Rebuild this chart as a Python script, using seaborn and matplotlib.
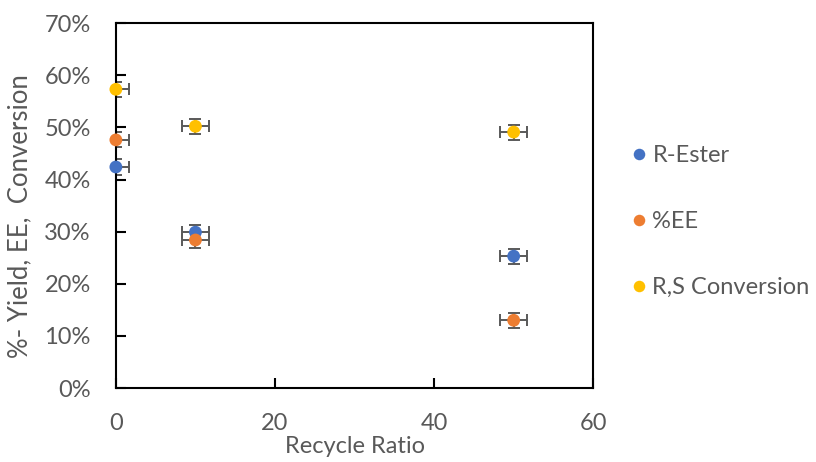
import matplotlib
matplotlib.use("Agg")
import matplotlib.pyplot as plt
from matplotlib.ticker import FuncFormatter, MultipleLocator
import seaborn as sns
import pandas as pd

# Recycle ratio settings
recycle_ratio = [0, 10, 50]

# Measured values (%)
r_ester = [42.4, 29.9, 25.3]
ee = [47.6, 28.4, 13.0]
rs_conversion = [57.3, 50.2, 49.1]

series_names = ["R-Ester", "%EE", "R,S Conversion"]
series_colors = ["#4472C4", "#ED7D31", "#FFC000"]

# Uncertainty of each point
x_err = 1.7
y_err = 1.45

df = pd.DataFrame({
    "Recycle Ratio": recycle_ratio * 3,
    "value": r_ester + ee + rs_conversion,
    "series": [n for n in series_names for _ in recycle_ratio],
})

sns.set_theme(style="white")
plt.rcParams["font.family"] = ["Lato", "DejaVu Sans"]

fig = plt.figure(figsize=(8.16, 4.62), dpi=100)
ax = fig.add_axes([0.142, 0.160, 0.585, 0.790])

grey = "#595959"
fs = 17

# error bars underneath the markers
ax.errorbar(df["Recycle Ratio"], df["value"], xerr=x_err, yerr=y_err,
            fmt="none", ecolor=grey, elinewidth=1.4, capsize=4,
            capthick=1.4, zorder=2)

sns.scatterplot(data=df, x="Recycle Ratio", y="value", hue="series",
                hue_order=series_names, palette=series_colors, s=85,
                edgecolor="none", ax=ax, zorder=3, clip_on=False)

ax.set_xlim(0, 60)
ax.set_ylim(0, 70)
ax.xaxis.set_major_locator(MultipleLocator(20))
ax.yaxis.set_major_locator(MultipleLocator(10))
ax.yaxis.set_major_formatter(FuncFormatter(lambda v, _: f"{v:.0f}%"))

for s in ax.spines.values():
    s.set_visible(True)
    s.set_color("black")
    s.set_linewidth(1.5)

ax.tick_params(axis="both", direction="in", length=7, width=1.5,
               color="black", labelcolor=grey, labelsize=fs,
               left=True, bottom=True)
ax.tick_params(axis="x", pad=18)
ax.tick_params(axis="y", pad=18)

ax.set_xlabel("Recycle Ratio", color=grey, fontsize=fs)
ax.set_ylabel("%- Yield, EE,  Conversion", color=grey, fontsize=18.5)
ax.xaxis.set_label_coords(0.5, -0.132)
ax.yaxis.set_label_coords(-0.176, 0.47)

handles, labels = ax.get_legend_handles_labels()
ax.legend_.remove()
leg = fig.legend(handles, labels, loc="center left",
                 bbox_to_anchor=(0.746, 0.52), frameon=False,
                 fontsize=fs, labelspacing=1.9, handletextpad=0.15,
                 handlelength=0.8, markerscale=0.9)
for t in leg.get_texts():
    t.set_color(grey)

fig.savefig("out.png", dpi=100)
